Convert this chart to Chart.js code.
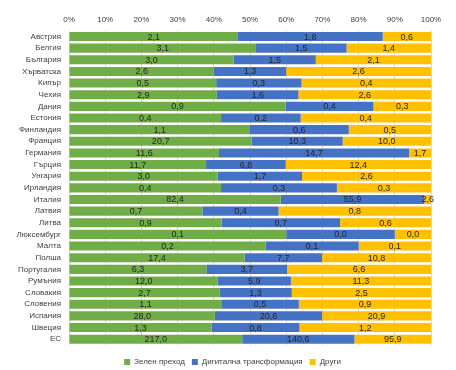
<!DOCTYPE html>
<html>
<head>
<meta charset="utf-8">
<script src="https://cdn.jsdelivr.net/npm/chart.js@4.4.0/dist/chart.umd.min.js"></script>
<style>
  html, body { margin: 0; padding: 0; background: #fff; }
  #wrap { width: 456px; height: 370px; }
</style>
</head>
<body>
<div id="wrap"><canvas id="myChart"></canvas></div>
<script>
// categories, top to bottom
const countries = ['Австрия', 'Белгия', 'България', 'Хърватска', 'Кипър', 'Чехия', 'Дания', 'Естония',
    'Финландия', 'Франция', 'Германия', 'Гърция', 'Унгария', 'Ирландия', 'Италия', 'Латвия', 'Литва',
    'Люксембург', 'Малта', 'Полша', 'Португалия', 'Румъния', 'Словакия', 'Словения', 'Испания', 'Швеция', 'ЕС'];

// values (bn EUR); small ones
const greenValues = [2.1, 3.1, 3.0, 2.6, 0.5, 2.9, 0.94, 0.42, 1.1, 20.7, 11.6, 11.7, 3.0, 0.42, 82.4, 0.7, 0.94,
    0.06, 0.19, 17.4, 6.3, 12.0, 2.7, 1.06, 28.0, 1.3, 217.0];
const digitalValues = [1.8, 1.5, 1.5, 1.3, 0.29, 1.6, 0.38, 0.22, 0.6, 10.3, 14.7, 6.8, 1.7, 0.32, 55.9, 0.4, 0.73,
    0.03, 0.09, 7.7, 3.7, 5.9, 1.3, 0.54, 20.6, 0.8, 140.6];
const otherValues = [0.6, 1.4, 2.1, 2.6, 0.44, 2.6, 0.25, 0.36, 0.5, 10.0, 1.7, 12.4, 2.6, 0.26, 2.6, 0.8, 0.56,
    0.01, 0.07, 10.8, 6.6, 11.3, 2.5, 0.92, 20.9, 1.2, 95.9];

const seriesNames = ['Зелен преход', 'Дигитална трансформация', 'Други'];
const seriesColors = ['#70AD47', '#4472C4', '#FFC000'];
const tickValues = [0, 10, 20, 30, 40, 50, 60, 70, 80, 90, 100];

const totals = countries.map((c, i) => greenValues[i] + digitalValues[i] + otherValues[i]);
const allSeries = [greenValues, digitalValues, otherValues];

// draw the absolute value in the middle of each segment
const segmentLabels = {
    id: 'segmentLabels',
    afterLayout(chart) {
        // nudge the legend lower and to the right, like in the original
        if (chart.legend) {
            chart.legend.top += 6;
            chart.legend.bottom += 6;
            chart.legend.left += 17;
            chart.legend.right += 17;
        }
    },
    afterDatasetsDraw(chart) {
        const ctx = chart.ctx;
        ctx.save();
        ctx.font = '9px "Liberation Sans", sans-serif';
        ctx.fillStyle = '#262626';
        ctx.textAlign = 'center';
        ctx.textBaseline = 'middle';
        chart.data.datasets.forEach((ds, d) => {
            chart.getDatasetMeta(d).data.forEach((bar, i) => {
                const text = ds.raw[i].toFixed(1).replace('.', ',');
                ctx.fillText(text, (bar.x + bar.base) / 2, bar.y + 0.5);
            });
        });
        ctx.restore();
    }
};

const ctx = document.getElementById('myChart').getContext('2d');
const myChart = new Chart(ctx, {
    type: 'bar',
    data: {
        labels: countries,
        datasets: allSeries.map((vals, s) => ({
            label: seriesNames[s],
            raw: vals,
            data: vals.map((v, i) => v / totals[i] * 100),
            backgroundColor: seriesColors[s],
            borderWidth: 0,
            barPercentage: 0.78,
            categoryPercentage: 1
        }))
    },
    plugins: [segmentLabels],
    options: {
        indexAxis: 'y',
        responsive: true,
        maintainAspectRatio: false,
        animation: false,
        layout: { padding: { top: 0, right: 25, bottom: 0, left: 0 } },
        plugins: {
            legend: {
                position: 'bottom',
                labels: {
                    boxWidth: 6,
                    boxHeight: 6,
                    padding: 7,
                    color: '#404040',
                    font: { size: 8, family: '"Liberation Sans", sans-serif' }
                }
            },
            tooltip: { enabled: false }
        },
        scales: {
            x: {
                position: 'top',
                stacked: true,
                min: 0,
                max: 100,
                afterBuildTicks: s => { s.ticks = tickValues.map(v => ({ value: v })); },
                afterFit: s => { s.height = 30.7; },
                ticks: {
                    callback: v => v + '%',
                    padding: 6,
                    color: '#404040',
                    font: { size: 8, family: '"Liberation Sans", sans-serif' }
                },
                grid: { color: '#d9d9d9', drawTicks: false },
                border: { display: false }
            },
            y: {
                stacked: true,
                afterFit: s => { s.width = 69; },
                ticks: {
                    padding: 8,
                    autoSkip: false,
                    color: '#404040',
                    font: { size: 8, family: '"Liberation Sans", sans-serif' }
                },
                grid: { display: false, drawTicks: false },
                border: { display: false }
            }
        }
    }
});
</script>
</body>
</html>
